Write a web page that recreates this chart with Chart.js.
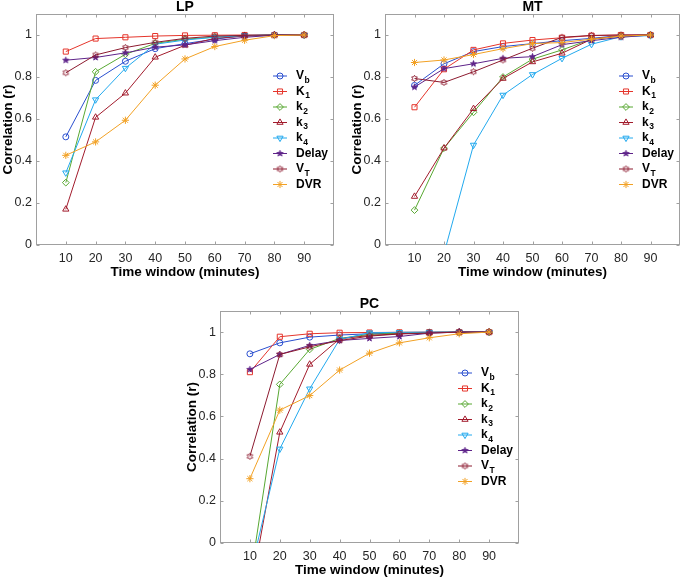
<!DOCTYPE html>
<html>
<head>
<meta charset="utf-8">
<script src="https://cdn.jsdelivr.net/npm/chart.js@4/dist/chart.umd.min.js"></script>
<style>
  html, body { margin: 0; padding: 0; background: #fff; overflow: hidden; }
  body { width: 685px; height: 579px; position: relative; }
  canvas { position: absolute; }
</style>
</head>
<body>
<canvas id="lp"></canvas>
<canvas id="mt"></canvas>
<canvas id="pc"></canvas>
<script>
// time windows (minutes) and axis ticks
const windows = [10, 20, 30, 40, 50, 60, 70, 80, 90];
const xTicks = [10, 20, 30, 40, 50, 60, 70, 80, 90];
const yTicks = [0, 0.2, 0.4, 0.6, 0.8, 1];
const xTitle = 'Time window (minutes)';
const yTitle = 'Correlation (r)';

// legend: main text + subscript
const seriesNames = [["V", "b"], ["K", "1"], ["k", "2"], ["k", "3"], ["k", "4"], ["Delay", ""], ["V", "T"], ["DVR", ""]];

// LP
const lpVb    = [0.515, 0.784, 0.875, 0.935, 0.959, 0.980, 0.997, 1.0, 1.0];
const lpK1    = [0.921, 0.983, 0.989, 0.995, 0.998, 0.999, 1.0, 1.0, 1.0];
const lpK2    = [0.297, 0.825, 0.908, 0.960, 0.980, 0.990, 0.996, 1.0, 1.0];
const lpK3    = [0.170, 0.608, 0.723, 0.894, 0.951, 0.984, 0.995, 1.0, 1.0];
const lpK4    = [0.344, 0.692, 0.842, 0.956, 0.976, 0.989, 0.998, 1.0, 1.0];
const lpDelay = [0.880, 0.893, 0.915, 0.942, 0.953, 0.973, 0.989, 0.999, 1.0];
const lpVT    = [0.820, 0.905, 0.940, 0.965, 0.984, 0.995, 0.998, 1.0, 1.0];
const lpDVR   = [0.427, 0.491, 0.594, 0.761, 0.886, 0.945, 0.975, 0.997, 1.0];

// MT
const mtVb    = [0.760, 0.863, 0.921, 0.945, 0.959, 0.973, 0.984, 0.998, 1.0];
const mtK1    = [0.656, 0.837, 0.929, 0.960, 0.976, 0.987, 0.997, 1.0, 1.0];
const mtK2    = [0.166, 0.461, 0.632, 0.800, 0.885, 0.929, 0.980, 0.995, 1.0];
const mtK3    = [0.231, 0.461, 0.649, 0.793, 0.872, 0.913, 0.980, 0.996, 1.0];
const mtK4    = [-0.55, -0.041, 0.476, 0.714, 0.812, 0.889, 0.956, 0.992, 0.997];
const mtDelay = [0.752, 0.840, 0.863, 0.889, 0.897, 0.954, 0.973, 0.989, 1.0];
const mtVT    = [0.793, 0.774, 0.825, 0.881, 0.937, 0.989, 0.998, 1.0, 1.0];
const mtDVR   = [0.869, 0.881, 0.907, 0.935, 0.959, 0.964, 0.980, 0.995, 1.0];

// PC
const pcVb    = [0.897, 0.949, 0.976, 0.986, 0.992, 0.995, 0.998, 1.0, 1.0];
const pcK1    = [0.810, 0.978, 0.992, 0.997, 0.998, 0.999, 1.0, 1.0, 1.0];
const pcK2    = [-0.180, 0.752, 0.918, 0.970, 0.989, 0.995, 0.998, 1.0, 1.0];
const pcK3    = [-0.247, 0.525, 0.847, 0.968, 0.984, 0.992, 0.998, 1.0, 1.0];
const pcK4    = [-0.149, 0.446, 0.731, 0.965, 0.997, 0.999, 1.0, 1.0, 1.0];
const pcDelay = [0.823, 0.894, 0.937, 0.960, 0.970, 0.979, 0.995, 1.0, 1.0];
const pcVT    = [0.411, 0.894, 0.930, 0.960, 0.981, 0.991, 0.995, 1.0, 1.0];
const pcDVR   = [0.305, 0.630, 0.699, 0.820, 0.900, 0.949, 0.973, 0.992, 1.0];

const FONT = '"Liberation Sans", Arial, Helvetica, sans-serif';
const AXIS = '#a0a0a0';

function starCanvas(points, rOut, rIn, color, fill) {
  const size = Math.ceil(rOut * 2 + 2);
  const c = document.createElement('canvas');
  c.width = size; c.height = size;
  const g = c.getContext('2d');
  g.beginPath();
  for (let i = 0; i < points * 2; i++) {
    const r = i % 2 === 0 ? rOut : rIn;
    const a = -Math.PI / 2 + i * Math.PI / points;
    const px = size / 2 + r * Math.cos(a), py = size / 2 + r * Math.sin(a);
    if (i === 0) g.moveTo(px, py); else g.lineTo(px, py);
  }
  g.closePath();
  g.lineWidth = 0.9;
  g.strokeStyle = color;
  if (fill) { g.fillStyle = color; g.fill(); }
  g.stroke();
  return c;
}

// style per series (same order as seriesNames)
const styles = [
  { color: '#2a4fcf', pointStyle: 'circle', radius: 3, rotation: 0 },
  { color: '#e5352b', pointStyle: 'rect', radius: 3.6, rotation: 0 },
  { color: '#58a832', pointStyle: 'rectRot', radius: 3.4, rotation: 0 },
  { color: '#a21b2c', pointStyle: 'triangle', radius: 3.6, rotation: 0 },
  { color: '#22a9ee', pointStyle: 'triangle', radius: 3.6, rotation: 180 },
  { color: '#5e2389', pointStyle: starCanvas(5, 3.2, 1.3, '#5e2389', true), radius: 3, rotation: 0 },
  { color: '#8c1a2f', pointStyle: starCanvas(6, 3.2, 1.9, '#8c1a2f', false), radius: 3, rotation: 0 },
  { color: '#f2a124', pointStyle: 'star', radius: 3.6, rotation: 0 }
];

const framePlugin = {
  id: 'frame',
  beforeDatasetsDraw(chart) {
    const { ctx, chartArea: a, scales } = chart;
    ctx.save();
    ctx.strokeStyle = AXIS;
    ctx.lineWidth = 1;
    const L = Math.round(a.left) + 0.5, R = Math.round(a.right) - 0.5;
    const T = Math.round(a.top) + 0.5, B = Math.round(a.bottom) - 0.5;
    ctx.strokeRect(L, T, R - L, B - T);
    ctx.beginPath();
    xTicks.forEach(v => {
      const px = Math.round(scales.x.getPixelForValue(v)) + 0.5;
      ctx.moveTo(px, B); ctx.lineTo(px, B - 3);
      ctx.moveTo(px, T); ctx.lineTo(px, T + 3);
    });
    yTicks.forEach(v => {
      const py = Math.round(scales.y.getPixelForValue(v)) + 0.5;
      ctx.moveTo(L, py); ctx.lineTo(L + 3, py);
      ctx.moveTo(R, py); ctx.lineTo(R - 3, py);
    });
    ctx.stroke();
    ctx.restore();
  },
  afterDraw(chart, args, opts) {
    const { ctx, chartArea: a } = chart;
    ctx.save();
    ctx.fillStyle = '#000';
    ctx.textAlign = 'center';
    ctx.textBaseline = 'middle';
    // panel title
    ctx.font = 'bold 14px ' + FONT;
    ctx.fillText(opts.title, (a.left + a.right) / 2, a.top - 6.5);
    // axis titles
    ctx.font = 'bold 13.5px ' + FONT;
    ctx.fillText(xTitle, (a.left + a.right) / 2, a.bottom + 27.5);
    ctx.save();
    ctx.translate(a.left - 28, (a.top + a.bottom) / 2);
    ctx.rotate(-Math.PI / 2);
    ctx.fillText(yTitle, 0, 0);
    ctx.restore();
    // legend inside the axes
    const x0 = a.right - 61, y0 = a.top + 62, step = 15.5;
    seriesNames.forEach((nm, i) => {
      const st = styles[i];
      const y = y0 + i * step;
      ctx.strokeStyle = st.color;
      ctx.lineWidth = 1;
      ctx.beginPath();
      ctx.moveTo(x0, y); ctx.lineTo(x0 + 14, y);
      ctx.stroke();
      ctx.fillStyle = 'rgba(0,0,0,0)';
      if (Chart.helpers && Chart.helpers.drawPoint) {
        Chart.helpers.drawPoint(ctx, { pointStyle: st.pointStyle, radius: st.radius, rotation: st.rotation, borderWidth: 1 }, x0 + 7, y);
      }
      ctx.fillStyle = '#000';
      ctx.textAlign = 'left';
      ctx.textBaseline = 'middle';
      ctx.font = 'bold 12px ' + FONT;
      ctx.fillText(nm[0], x0 + 23, y);
      if (nm[1]) {
        const w = ctx.measureText(nm[0]).width;
        ctx.font = 'bold 8.5px ' + FONT;
        ctx.fillText(nm[1], x0 + 23 + w + 0.5, y + 4.5);
      }
    });
    ctx.restore();
  }
};

function drawPanel(id, title, box, area, values) {
  const el = document.getElementById(id);
  el.width = box.w; el.height = box.h;
  el.style.left = box.x + 'px'; el.style.top = box.y + 'px';
  el.style.width = box.w + 'px'; el.style.height = box.h + 'px';

  const datasets = values.map((vals, i) => ({
    label: seriesNames[i].join(''),
    data: windows.map((w, j) => ({ x: w, y: vals[j] })),
    borderColor: styles[i].color,
    backgroundColor: 'rgba(0,0,0,0)',
    borderWidth: 1,
    pointStyle: styles[i].pointStyle,
    pointRadius: styles[i].radius,
    pointRotation: styles[i].rotation,
    pointBorderColor: styles[i].color,
    pointBackgroundColor: 'rgba(0,0,0,0)',
    pointBorderWidth: 1,
    tension: 0,
    order: values.length - i,
  }));

  return new Chart(el, {
    type: 'line',
    data: { datasets },
    options: {
      responsive: false,
      animation: false,
      events: [],
      layout: {
        padding: {
          top: area.top - box.y,
          right: box.x + box.w - area.right,
          left: 0,
          bottom: 0,
        },
      },
      plugins: {
        legend: { display: false },
        tooltip: { enabled: false },
        frame: { title },
      },
      scales: {
        x: {
          type: 'linear',
          min: 0,
          max: 100,
          afterBuildTicks: (s) => { s.ticks = xTicks.map((v) => ({ value: v })); },
          afterFit: (s) => { s.height = box.y + box.h - area.bottom; },
          grid: { display: false, drawTicks: false },
          border: { display: false },
          ticks: { color: '#262626', font: { family: FONT, size: 12.5 }, padding: 6, maxRotation: 0 },
        },
        y: {
          type: 'linear',
          min: 0,
          max: 1.1,
          afterBuildTicks: (s) => { s.ticks = yTicks.map((v) => ({ value: v })); },
          afterFit: (s) => { s.width = area.left - box.x; },
          grid: { display: false, drawTicks: false },
          border: { display: false },
          ticks: { color: '#262626', font: { family: FONT, size: 12.5 }, padding: 4, callback: (v) => String(v) },
        },
      },
    },
    plugins: [framePlugin],
  });
}

drawPanel('lp', 'LP', { x: 0, y: 0, w: 340, h: 280 }, { left: 36, top: 14, right: 334, bottom: 245 },
  [lpVb, lpK1, lpK2, lpK3, lpK4, lpDelay, lpVT, lpDVR]);
drawPanel('mt', 'MT', { x: 349, y: 0, w: 336, h: 280 }, { left: 385, top: 14, right: 684, bottom: 245 },
  [mtVb, mtK1, mtK2, mtK3, mtK4, mtDelay, mtVT, mtDVR]);
drawPanel('pc', 'PC', { x: 184, y: 297, w: 340, h: 281 }, { left: 220, top: 311, right: 519, bottom: 543 },
  [pcVb, pcK1, pcK2, pcK3, pcK4, pcDelay, pcVT, pcDVR]);
</script>
</body>
</html>
